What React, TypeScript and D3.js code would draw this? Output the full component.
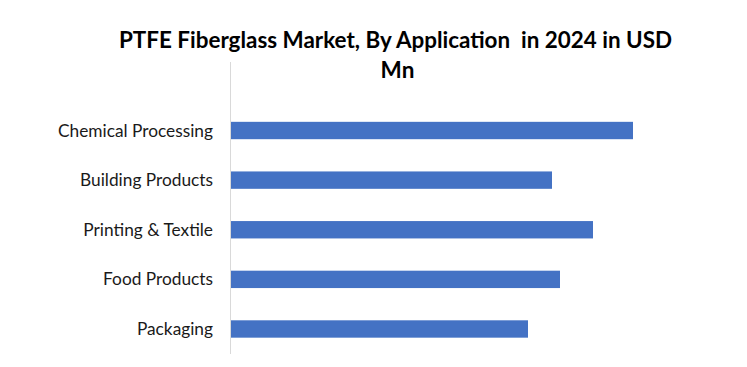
import React from "react";
import * as d3 from "d3";

const categories = ["Chemical Processing", "Building Products", "Printing & Textile", "Food Products", "Packaging"];
const values = [40.2, 32.1, 36.2, 32.9, 29.7];
const titleLines = ["PTFE Fiberglass Market, By Application  in 2024 in USD", "Mn"];

const W = 747;
const H = 367;

export default function App() {
  const x = d3.scaleLinear().domain([0, 50]).range([231, 731]);
  const y = d3
    .scaleBand<string>()
    .domain(categories)
    .range([105.7, 353.8])
    .paddingInner(0.65)
    .paddingOuter(0.325);
  const font = "Lato, 'Open Sans', sans-serif";
  return (
    <div style={{ position: "absolute", left: 0, top: 0 }}>
      <svg width={W} height={H} style={{ display: "block", background: "#fff" }}>
        <text
          x={395.5}
          y={48}
          textAnchor="middle"
          fontFamily={font}
          fontWeight={700}
          fontSize={22.5}
          fill="#000"
          textLength={553}
          lengthAdjust="spacingAndGlyphs"
          style={{ whiteSpace: "pre" }}
        >
          {titleLines[0]}
        </text>
        <text x={397.5} y={78} textAnchor="middle" fontFamily={font} fontWeight={700} fontSize={22.5} fill="#000">
          {titleLines[1]}
        </text>
        <line x1={230.5} x2={230.5} y1={62} y2={354} stroke="#D9D9D9" strokeWidth={1} />
        {categories.map((c, i) => (
          <g key={c}>
            <rect
              x={x(0)}
              y={y(c)!}
              width={x(values[i]) - x(0)}
              height={y.bandwidth()}
              fill="#4472C4"
            />
            <text
              x={213}
              y={y(c)! + y.bandwidth() / 2}
              dy="0.35em"
              textAnchor="end"
              fontFamily={font}
              fontSize={17.3}
              fill="#1a1a1a"
            >
              {c}
            </text>
          </g>
        ))}
      </svg>
    </div>
  );
}
